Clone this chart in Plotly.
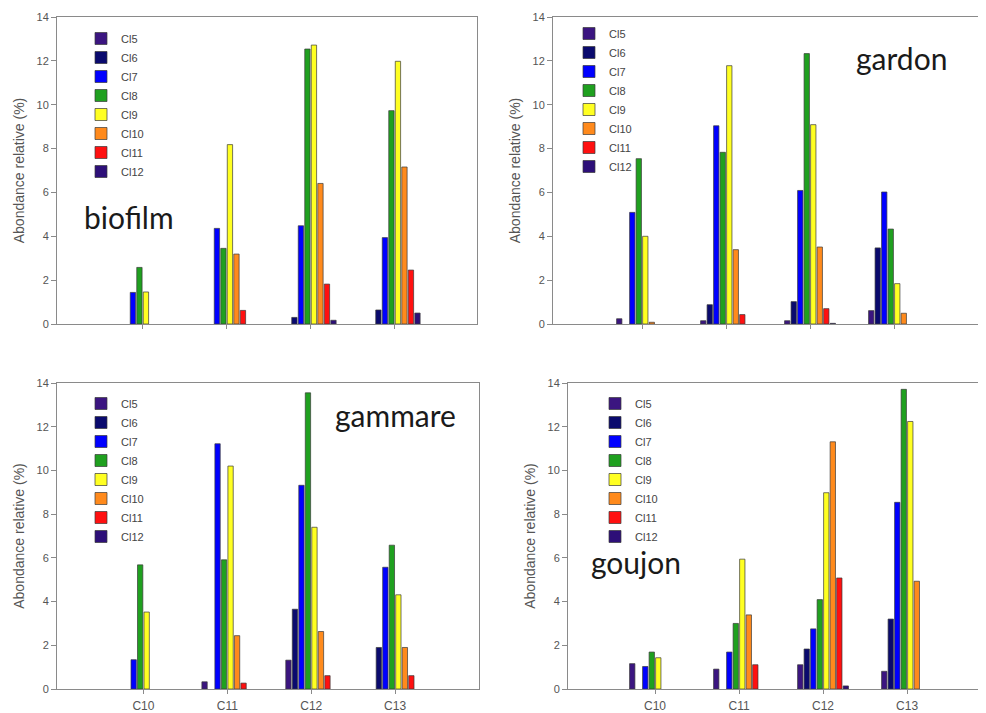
import plotly.graph_objects as go

# ---------------- data ----------------
categories = ["C10", "C11", "C12", "C13"]
series_names = ["Cl5", "Cl6", "Cl7", "Cl8", "Cl9", "Cl10", "Cl11", "Cl12"]
series_colors = ["#3b1580", "#0a0a6e", "#0000ff", "#1fa01f",
                 "#ffff22", "#ff8a1c", "#ff1010", "#2d0f78"]
y_tick_values = [0, 2, 4, 6, 8, 10, 12, 14]
panel_names = ["biofilm", "gardon", "gammare", "goujon"]
y_title = "Abondance relative (%)"

# rows: Cl5..Cl12, columns: C10..C13 (None = no bar)
biofilm = [
    [None, None, None, None],
    [None, None, 0.30, 0.64],
    [1.44, 4.36, 4.48, 3.94],
    [2.58, 3.45, 12.54, 9.73],
    [1.46, 8.18, 12.72, 11.98],
    [None, 3.19, 6.41, 7.16],
    [None, 0.62, 1.82, 2.46],
    [None, None, 0.17, 0.50],
]
gardon = [
    [0.24, 0.15, 0.15, 0.61],
    [None, 0.88, 1.02, 3.47],
    [5.09, 9.04, 6.09, 6.02],
    [7.54, 7.83, 12.33, 4.33],
    [4.00, 11.78, 9.09, 1.84],
    [0.08, 3.39, 3.51, 0.49],
    [None, 0.43, 0.70, None],
    [None, None, 0.03, None],
]
gammare = [
    [None, 0.33, 1.32, None],
    [None, None, 3.65, 1.90],
    [1.34, 11.22, 9.32, 5.57],
    [5.68, 5.91, 13.55, 6.58],
    [3.52, 10.20, 7.40, 4.31],
    [None, 2.44, 2.63, 1.90],
    [None, 0.27, 0.61, 0.61],
    [None, None, None, None],
]
goujon = [
    [1.16, 0.91, 1.11, 0.81],
    [None, None, 1.83, 3.20],
    [1.03, 1.69, 2.75, 8.54],
    [1.69, 3.00, 4.09, 13.71],
    [1.43, 5.94, 8.98, 12.24],
    [None, 3.39, 11.31, 4.93],
    [None, 1.11, 5.08, None],
    [None, None, 0.14, None],
]
panels = [biofilm, gardon, gammare, goujon]

# ---------------- layout helpers ----------------
OFF = 8  # page body margin
W, H = 986 - OFF, 713 - OFF


def px_x(p):
    return (p - OFF) / W


def px_y(p):
    return 1 - (p - OFF) / H


# plot areas in page pixels: (left, right, top, bottom)
areas = [(57, 477, 17, 324), (553, 978, 17, 324),
         (57, 479, 383, 689), (568, 986, 383, 689)]
x_ranges = [[-1.02, 3.98], [-1.06, 4.0], [-1.03, 4.0], [-1.036, 3.94]]
right_frame = [True, True, True, False]
legend_pos = [(81, 24), (569, 19), (81, 389), (595, 389)]
label_pos = [(129, 217, "biofilm"), (901, 58, "gardon"),
             (395, 415, "gammare"), (636, 562, "goujon")]

fig = go.Figure()
for p, values in enumerate(panels):
    sfx = "" if p == 0 else str(p + 1)
    for s, name in enumerate(series_names):
        fig.add_trace(go.Bar(
            x=categories, y=values[s], name=name,
            marker=dict(color=series_colors[s],
                        line=dict(color="#3a3a3a", width=0.7)),
            xaxis="x" + sfx, yaxis="y" + sfx,
            legend="legend" + sfx,
            showlegend=True,
        ))

layout = dict(
    width=W, height=H,
    margin=dict(l=0, r=0, t=0, b=0, autoexpand=False),
    paper_bgcolor="white", plot_bgcolor="white",
    barmode="group", bargap=0.38, bargroupgap=0.18,
    font=dict(family="Arial, Liberation Sans, sans-serif", color="#444"),
    annotations=[],
)

for p in range(4):
    sfx = "" if p == 0 else str(p + 1)
    l, r, t, b = areas[p]
    bottom_row = p >= 2
    layout["xaxis" + sfx] = dict(
        domain=[px_x(l), min(px_x(r), 1.0)],
        anchor="y" + sfx,
        type="category",
        categoryorder="array", categoryarray=categories,
        range=x_ranges[p],
        automargin=False,
        showline=True, mirror=True, linecolor="#8a8a8a", linewidth=1,
        ticks="outside", ticklen=4, tickcolor="#8a8a8a",
        showgrid=False, zeroline=False,
        showticklabels=bottom_row,
        ticklabelstandoff=2,
        tickfont=dict(size=12, color="#555"),
    )
    layout["yaxis" + sfx] = dict(
        domain=[px_y(b), px_y(t)],
        anchor="x" + sfx,
        range=[0, 14], tickvals=y_tick_values,
        automargin=False,
        showline=True, mirror=right_frame[p], linecolor="#8a8a8a", linewidth=1,
        ticks="outside", ticklen=5, tickcolor="#8a8a8a",
        showgrid=False, zeroline=False,
        tickfont=dict(size=11, color="#555"),
        title=dict(text=y_title, font=dict(size=14, color="#555"), standoff=8),
    )
    lx, ly = legend_pos[p]
    layout["legend" + sfx] = dict(
        x=px_x(lx), y=px_y(ly), xanchor="left", yanchor="top",
        bgcolor="rgba(0,0,0,0)", font=dict(size=11, color="#444"),
        tracegroupgap=0, itemclick=False,
    )
    ax, ay, txt = label_pos[p]
    layout["annotations"].append(dict(
        text=txt, xref="paper", yref="paper",
        x=px_x(ax), y=px_y(ay), xanchor="center", yanchor="middle",
        showarrow=False, font=dict(family="Lato", size=30, color="#1a1a1a"),
    ))

fig.update_layout(**layout)
fig.write_html("out.html")
